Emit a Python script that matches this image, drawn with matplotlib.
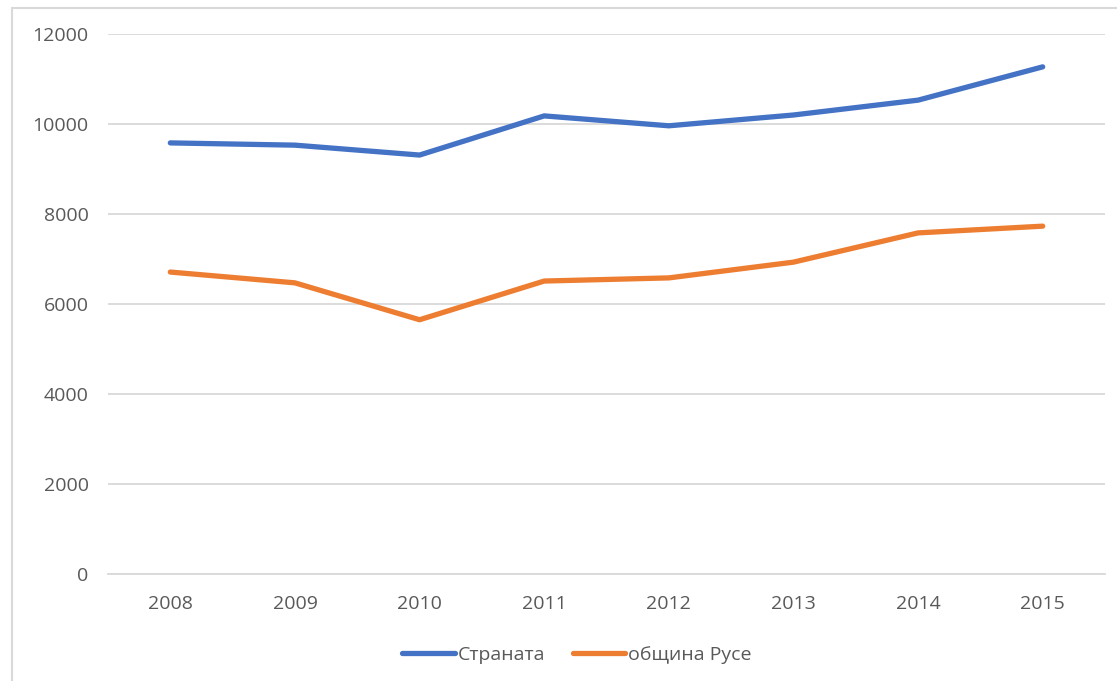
import matplotlib
matplotlib.use("Agg")
import matplotlib.pyplot as plt
from matplotlib.patches import Rectangle

years = ["2008", "2009", "2010", "2011", "2012", "2013", "2014", "2015"]
country = [9580, 9530, 9310, 10180, 9960, 10200, 10530, 11270]
ruse = [6710, 6470, 5650, 6510, 6580, 6930, 7580, 7730]
series_names = ["Страната", "община Русе"]
yticks = [0, 2000, 4000, 6000, 8000, 10000, 12000]

plt.rcParams['font.family'] = ['Open Sans', 'DejaVu Sans']

W, H = 1117, 681
fig = plt.figure(figsize=(W / 100, H / 100), dpi=100)
fig.patches.append(Rectangle((12 / W, -0.1), 1.2, 1 - 8 / H + 0.1, transform=fig.transFigure,
                             fill=False, edgecolor="#D9D9D9", linewidth=1.5))
ax = fig.add_axes([108 / W, 1 - 574 / H, (1105 - 108) / W, (574 - 34) / H])

x = list(range(len(years)))
ax.plot(x, country, color="#4472C4", linewidth=3.8, solid_capstyle="round", label=series_names[0])
ax.plot(x, ruse, color="#ED7D31", linewidth=3.8, solid_capstyle="round", label=series_names[1])

ax.set_xlim(-0.5, len(years) - 0.5)
ax.set_ylim(0, 12000)
ax.set_yticks(yticks)
ax.set_yticklabels([str(v) for v in yticks])
ax.set_xticks(x)
ax.set_xticklabels(years)
ax.grid(axis="y", color="#D9D9D9", linewidth=1.3)
ax.set_axisbelow(True)
for s in ["top", "right", "left"]:
    ax.spines[s].set_visible(False)
ax.spines["bottom"].set_color("#D9D9D9")
ax.spines["bottom"].set_linewidth(1.3)
ax.tick_params(axis="both", length=0, labelsize=14, labelcolor="#595959")
ax.tick_params(axis="y", pad=14)
ax.tick_params(axis="x", pad=15)

leg = fig.legend(loc="center", bbox_to_anchor=(577 / W, 1 - 655 / H), ncol=2, frameon=False,
                 fontsize=14, handlelength=2.7, handletextpad=0.15, columnspacing=1.4)
for t in leg.get_texts():
    t.set_color("#595959")
for h in leg.legend_handles:
    h.set_solid_capstyle("round")

fig.savefig("out.png", dpi=100)
